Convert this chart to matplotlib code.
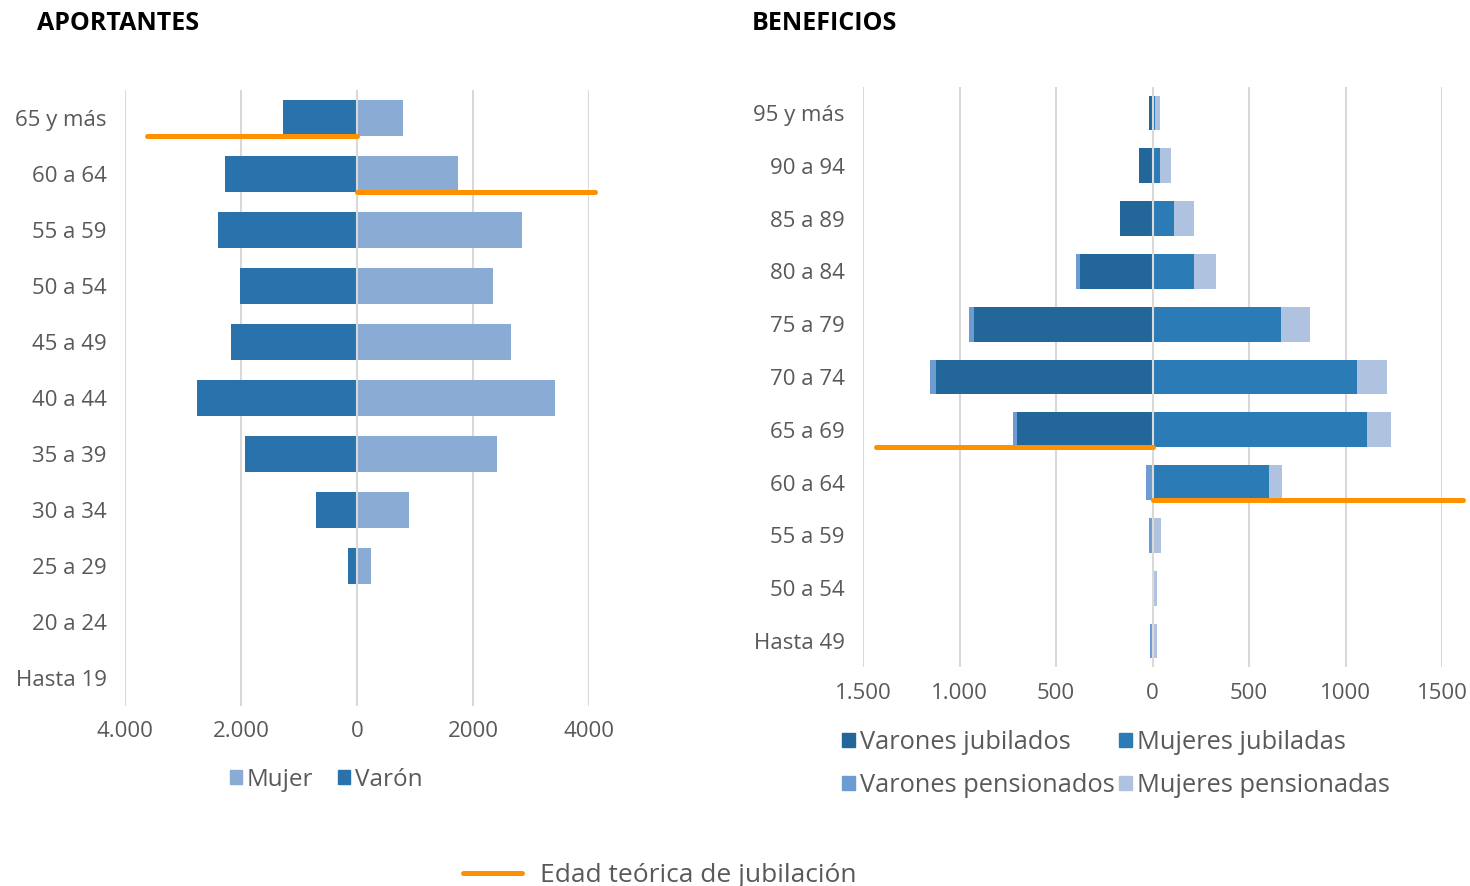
import matplotlib
matplotlib.use("Agg")
import matplotlib.pyplot as plt
from matplotlib.patches import Patch
from matplotlib.lines import Line2D
import numpy as np

plt.rcParams['font.family'] = ['Open Sans', 'DejaVu Sans']

# ---------------- data ----------------
ap_cats = ["65 y más", "60 a 64", "55 a 59", "50 a 54", "45 a 49", "40 a 44",
           "35 a 39", "30 a 34", "25 a 29", "20 a 24", "Hasta 19"]
ap_varon = [1270, 2270, 2390, 2015, 2168, 2766, 1939, 710, 157, 5, 0]
ap_mujer = [795, 1735, 2845, 2340, 2660, 3418, 2415, 890, 240, 25, 0]
ap_ticks = [-4000, -2000, 0, 2000, 4000]
ap_ticklabels = ["4.000", "2.000", "0", "2000", "4000"]
ap_jub_varon = ("65 y más", -3620)   # category, extent
ap_jub_mujer = ("60 a 64", 4110)

be_cats = ["95 y más", "90 a 94", "85 a 89", "80 a 84", "75 a 79", "70 a 74",
           "65 a 69", "60 a 64", "55 a 59", "50 a 54", "Hasta 49"]
be_var_jub = [17, 70, 166, 376, 924, 1124, 703, 5, 2, 0, 2]
be_var_pen = [3, 0, 0, 19, 29, 29, 22, 30, 15, 2, 10]
be_muj_jub = [12, 41, 113, 214, 664, 1057, 1112, 602, 2, 2, 2]
be_muj_pen = [28, 55, 101, 116, 154, 159, 123, 67, 44, 20, 20]
be_ticks = [-1500, -1000, -500, 0, 500, 1000, 1500]
be_ticklabels = ["1.500", "1.000", "500", "0", "500", "1000", "1500"]
be_jub_varon = ("65 a 69", -1432)
be_jub_mujer = ("60 a 64", 1610)

# ---------------- style ----------------
C_VARON = "#2A72AB"
C_MUJER = "#8AABD4"
C_VJ = "#236699"
C_MJ = "#2B7BB6"
C_VP = "#6C9CD1"
C_MP = "#AFC3E0"
C_ORANGE = "#FF9100"
C_GRID = "#D9D9D9"
C_TEXT = "#595959"

W, H = 1470, 886
fig = plt.figure(figsize=(W / 100, H / 100), dpi=100)

def ax_rect(l, r, t, b):
    return [l / W, 1 - b / H, (r - l) / W, (b - t) / H]

BAR_H = 0.66
FS = 16

def style_axes(ax, ticks, labels, cats, xlim):
    ax.set_xlim(*xlim)
    ax.set_ylim(len(cats) - 0.5, -0.5)
    ax.set_xticks(ticks)
    ax.set_xticklabels(labels)
    ax.set_yticks(range(len(cats)))
    ax.set_yticklabels(cats)
    for s in ax.spines.values():
        s.set_visible(False)
    ax.tick_params(length=0, labelsize=FS, colors=C_TEXT)
    ax.tick_params(axis='y', pad=13)
    ax.tick_params(axis='x', pad=11)
    for t in ticks:
        ax.axvline(t, color=C_GRID, lw=1.5, zorder=0 if t != 0 else 3)

# ---------------- left: APORTANTES ----------------
axL = fig.add_axes(ax_rect(125, 589, 90, 706))
y = np.arange(len(ap_cats))
axL.barh(y, [-v for v in ap_varon], height=BAR_H, color=C_VARON, zorder=2)
axL.barh(y, ap_mujer, height=BAR_H, color=C_MUJER, zorder=2)
style_axes(axL, ap_ticks, ap_ticklabels, ap_cats, (-4000, 4000))
for cat, ext in (ap_jub_varon, ap_jub_mujer):
    yy = ap_cats.index(cat) + BAR_H / 2
    axL.plot([0, ext], [yy, yy], color=C_ORANGE, lw=3.6,
             solid_capstyle='round', zorder=4, clip_on=False)

# ---------------- right: BENEFICIOS ----------------
axR = fig.add_axes(ax_rect(863, 1442, 86.6, 667.4))
y = np.arange(len(be_cats))
vj = np.array(be_var_jub)
vp = np.array(be_var_pen)
mj = np.array(be_muj_jub)
mp = np.array(be_muj_pen)
axR.barh(y, -vj, height=BAR_H, color=C_VJ, zorder=2)
axR.barh(y, -vp, left=-vj, height=BAR_H, color=C_VP, zorder=2)
axR.barh(y, mj, height=BAR_H, color=C_MJ, zorder=2)
axR.barh(y, mp, left=mj, height=BAR_H, color=C_MP, zorder=2)
style_axes(axR, be_ticks, be_ticklabels, be_cats, (-1500, 1500))
for cat, ext in (be_jub_varon, be_jub_mujer):
    yy = be_cats.index(cat) + BAR_H / 2
    axR.plot([0, ext], [yy, yy], color=C_ORANGE, lw=3.6,
             solid_capstyle='round', zorder=4, clip_on=False)

# ---------------- titles ----------------
fig.text(37 / W, 1 - 23 / H, "APORTANTES", fontsize=18, fontweight='bold',
         color="#000000", va='center', ha='left')
fig.text(752 / W, 1 - 23 / H, "BENEFICIOS", fontsize=18, fontweight='bold',
         color="#000000", va='center', ha='left')

# ---------------- legends ----------------
leg_kw = dict(frameon=False, labelcolor=C_TEXT,
              handlelength=0.5, handleheight=0.5, handletextpad=0.2,
              borderaxespad=0, borderpad=0)
fig.legend(handles=[Patch(color=C_MUJER, label="Mujer"),
                    Patch(color=C_VARON, label="Varón")],
           loc='center', bbox_to_anchor=(326 / W, 1 - 780 / H), ncol=2,
           columnspacing=1.0, fontsize=17.5, **leg_kw)
fig.legend(handles=[Patch(color=C_VJ, label="Varones jubilados"),
                    Patch(color=C_VP, label="Varones pensionados"),
                    Patch(color=C_MJ, label="Mujeres jubiladas"),
                    Patch(color=C_MP, label="Mujeres pensionadas")],
           loc='center', bbox_to_anchor=(1116 / W, 1 - 764 / H), ncol=2,
           columnspacing=0.2, labelspacing=0.72, fontsize=18.3, **leg_kw)
fig.legend(handles=[Line2D([], [], color=C_ORANGE, lw=3.6,
                           solid_capstyle='round',
                           label="Edad teórica de jubilación")],
           loc='center', bbox_to_anchor=(660 / W, 1 - 876 / H),
           frameon=False, fontsize=19, labelcolor=C_TEXT, handlelength=2.2,
           handletextpad=0.7, borderaxespad=0, borderpad=0)

fig.savefig("out.png", dpi=100, facecolor='white')
